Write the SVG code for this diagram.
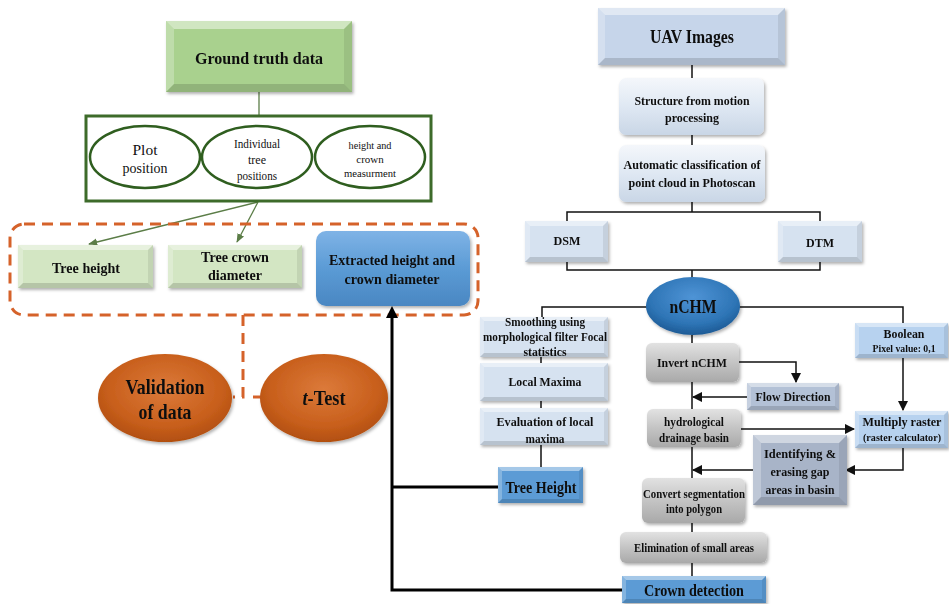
<svg xmlns="http://www.w3.org/2000/svg" width="949" height="604" viewBox="0 0 949 604">
  <style>
    text { font-family: "Liberation Serif", "Times New Roman", serif; font-weight: bold; fill: #111; text-anchor: middle; }
    .reg { font-weight: normal; }
    .bt { fill: #fff; opacity: 0.45; }
    .bl { fill: #fff; opacity: 0.25; }
    .bb { fill: #000; opacity: 0.14; }
    .br { fill: #000; opacity: 0.08; }
    .ln { stroke: #111; stroke-width: 1.5; fill: none; }
    .thick { stroke: #000; stroke-width: 3; fill: none; }
    .gl { stroke: #5b7d47; stroke-width: 1.3; fill: none; }
    .dash { stroke: #d5622a; stroke-width: 3; fill: none; stroke-dasharray: 11 7; }
    .oval { fill: #fff; stroke: #2f5e1f; stroke-width: 2.5; }
  </style>
  <defs>
    <filter id="sh" x="-10%" y="-10%" width="125%" height="130%">
      <feDropShadow dx="1.5" dy="2" stdDeviation="1.5" flood-color="#000" flood-opacity="0.3"/>
    </filter>
    <linearGradient id="gBlue" x1="0" y1="0" x2="0" y2="1">
      <stop offset="0" stop-color="#7fb3e6"/>
      <stop offset="0.5" stop-color="#5b9bd5"/>
      <stop offset="1" stop-color="#4a87c2"/>
    </linearGradient>
    <linearGradient id="gGrey" x1="0" y1="0" x2="0" y2="1">
      <stop offset="0" stop-color="#e2e2e2"/>
      <stop offset="0.5" stop-color="#c4c4c4"/>
      <stop offset="1" stop-color="#a9a9a9"/>
    </linearGradient>
    <linearGradient id="gPale" x1="0" y1="0" x2="0" y2="1">
      <stop offset="0" stop-color="#f4f7fb"/>
      <stop offset="0.5" stop-color="#dfe8f3"/>
      <stop offset="1" stop-color="#c9d6e6"/>
    </linearGradient>
    <radialGradient id="gOrange" cx="0.5" cy="0.4" r="0.6">
      <stop offset="0" stop-color="#dc7a3a"/>
      <stop offset="0.7" stop-color="#c85f1c"/>
      <stop offset="1" stop-color="#b24f10"/>
    </radialGradient>
    <radialGradient id="gNavy" cx="0.5" cy="0.35" r="0.65">
      <stop offset="0" stop-color="#4f94d6"/>
      <stop offset="0.7" stop-color="#2e75b6"/>
      <stop offset="1" stop-color="#1d5a95"/>
    </radialGradient>
    <marker id="ah" viewBox="0 0 10 10" refX="9" refY="5" markerWidth="7" markerHeight="7" orient="auto">
      <path d="M0,0 L10,5 L0,10 z" fill="#111"/>
    </marker>
    <marker id="ahg" viewBox="0 0 10 10" refX="9" refY="5" markerWidth="7" markerHeight="7" orient="auto">
      <path d="M0,1 L10,5 L0,9 z" fill="#5b7d47"/>
    </marker>
  </defs>

  <rect width="949" height="604" fill="#fff"/>

  <!-- connectors -->
  <g id="connectors">
    <!-- left: ground truth branch -->
    <line class="gl" x1="259" y1="92" x2="259" y2="116"/>
    <line class="gl" x1="258" y1="202" x2="89" y2="244" marker-end="url(#ahg)"/>
    <line class="gl" x1="258" y1="202" x2="237" y2="242" marker-end="url(#ahg)"/>
    <!-- validation dashed frame and links -->
    <rect class="dash" x="10" y="224" width="468" height="91" rx="14"/>
    <polyline class="dash" points="243,315 243,397 233,397"/>
    <line class="dash" x1="253" y1="397" x2="261" y2="397" stroke-dasharray="none"/>
    <!-- feedback lines to extracted values -->
    <polyline class="thick" points="622,590 392,590 392,312"/>
    <path d="M392,306 L386,318 L398,318 z" fill="#000"/>
    <line class="thick" x1="392" y1="487" x2="498" y2="487"/>
    <!-- right: UAV processing chain -->
    <line class="ln" x1="692" y1="65" x2="692" y2="78"/>
    <line class="ln" x1="692" y1="135" x2="692" y2="145"/>
    <polyline class="ln" points="692,202 692,212"/>
    <polyline class="ln" points="567,221 567,212 820,212 820,221"/>
    <polyline class="ln" points="567,262 567,270 820,270 820,262"/>
    <line class="ln" x1="692" y1="270" x2="692" y2="278"/>
    <polyline class="ln" points="542,317 542,307 903,307 903,323"/>
    <line class="ln" x1="692" y1="335" x2="692" y2="343"/>
    <line class="ln" x1="541" y1="357" x2="541" y2="363"/>
    <line class="ln" x1="541" y1="401" x2="541" y2="408"/>
    <line class="ln" x1="541" y1="445" x2="541" y2="467"/>
    <polyline class="ln" points="739,362 796,362 796,382" marker-end="url(#ah)"/>
    <line class="ln" x1="692" y1="382" x2="692" y2="409"/>
    <line class="ln" x1="747" y1="397" x2="693" y2="397" marker-end="url(#ah)"/>
    <line class="ln" x1="741" y1="429" x2="854" y2="429" marker-end="url(#ah)"/>
    <line class="ln" x1="903" y1="358" x2="903" y2="410" marker-end="url(#ah)"/>
    <polyline class="ln" points="903,448 903,470 846,470" marker-end="url(#ah)"/>
    <line class="ln" x1="753" y1="470" x2="693" y2="470" marker-end="url(#ah)"/>
    <line class="ln" x1="692" y1="447" x2="692" y2="478"/>
    <line class="ln" x1="692" y1="523" x2="692" y2="532"/>
    <line class="ln" x1="692" y1="563" x2="692" y2="576"/>
  </g>

  <!-- ground truth side -->
  <g id="ground-truth" filter="url(#sh)">
    <rect x="166" y="21" width="186" height="71" fill="#a9d18e"/>
    <polygon class="bt" points="166,21 352,21 344,29 174,29"/>
    <polygon class="bl" points="166,21 174,29 174,84 166,92"/>
    <polygon class="bb" points="166,92 174,84 344,84 352,92"/>
    <polygon class="br" points="352,21 352,92 344,84 344,29"/>
    <text x="259" y="64" font-size="17" textLength="128" lengthAdjust="spacingAndGlyphs">Ground truth data</text>
  </g>

  <g id="field-measurements">
    <rect x="86" y="116" width="345" height="85" fill="#fff" stroke="#3d6b2a" stroke-width="3"/>
    <g id="plot-position">
      <ellipse class="oval" cx="145" cy="157" rx="55" ry="31"/>
      <text class="reg" x="145" y="155" font-size="15" textLength="25" lengthAdjust="spacingAndGlyphs">Plot</text>
      <text class="reg" x="145" y="173" font-size="15" textLength="45" lengthAdjust="spacingAndGlyphs">position</text>
    </g>
    <g id="tree-positions">
      <ellipse class="oval" cx="257" cy="157" rx="55" ry="31"/>
      <text class="reg" x="257" y="148" font-size="12" textLength="46" lengthAdjust="spacingAndGlyphs">Individual</text>
      <text class="reg" x="257" y="164" font-size="12">tree</text>
      <text class="reg" x="257" y="180" font-size="12" textLength="40" lengthAdjust="spacingAndGlyphs">positions</text>
    </g>
    <g id="height-crown-measurement">
      <ellipse class="oval" cx="370" cy="157" rx="55" ry="31"/>
      <text class="reg" x="370" y="149" font-size="11" textLength="43" lengthAdjust="spacingAndGlyphs">height and</text>
      <text class="reg" x="370" y="163" font-size="11">crown</text>
      <text class="reg" x="370" y="177" font-size="11" textLength="52" lengthAdjust="spacingAndGlyphs">measurment</text>
    </g>
  </g>

  <g id="tree-height-gt" filter="url(#sh)">
    <rect x="18" y="245" width="135" height="43" fill="#d3e6c3"/>
    <polygon class="bt" points="18,245 153,245 148,250 23,250"/>
    <polygon class="bl" points="18,245 23,250 23,283 18,288"/>
    <polygon class="bb" points="18,288 23,283 148,283 153,288"/>
    <polygon class="br" points="153,245 153,288 148,283 148,250"/>
    <text x="86" y="273" font-size="15" textLength="68" lengthAdjust="spacingAndGlyphs">Tree height</text>
  </g>

  <g id="tree-crown-gt" filter="url(#sh)">
    <rect x="168" y="245" width="134" height="43" fill="#d3e6c3"/>
    <polygon class="bt" points="168,245 302,245 297,250 173,250"/>
    <polygon class="bl" points="168,245 173,250 173,283 168,288"/>
    <polygon class="bb" points="168,288 173,283 297,283 302,288"/>
    <polygon class="br" points="302,245 302,288 297,283 297,250"/>
    <text x="235" y="262" font-size="15" textLength="68" lengthAdjust="spacingAndGlyphs">Tree crown</text>
    <text x="235" y="280" font-size="15" textLength="54" lengthAdjust="spacingAndGlyphs">diameter</text>
  </g>

  <g id="extracted" filter="url(#sh)">
    <rect x="316" y="231" width="154" height="75" rx="10" fill="url(#gBlue)"/>
    <text x="392" y="265" font-size="15" textLength="126" lengthAdjust="spacingAndGlyphs">Extracted height and</text>
    <text x="392" y="284" font-size="15" textLength="95" lengthAdjust="spacingAndGlyphs">crown diameter</text>
  </g>

  <g id="validation" filter="url(#sh)">
    <ellipse cx="165" cy="398" rx="67" ry="44" fill="url(#gOrange)"/>
    <text x="165" y="394" font-size="21" textLength="79" lengthAdjust="spacingAndGlyphs">Validation</text>
    <text x="165" y="419" font-size="21" textLength="53" lengthAdjust="spacingAndGlyphs">of data</text>
  </g>

  <g id="t-test" filter="url(#sh)">
    <ellipse cx="324" cy="398" rx="64" ry="44" fill="url(#gOrange)"/>
    <text x="324" y="405" font-size="20" textLength="43" lengthAdjust="spacingAndGlyphs"><tspan font-style="italic">t</tspan>-Test</text>
  </g>

  <!-- UAV side -->
  <g id="uav-images" filter="url(#sh)">
    <rect x="598" y="8" width="187" height="57" fill="#c6d5ea"/>
    <polygon class="bt" points="598,8 785,8 778,15 605,15"/>
    <polygon class="bl" points="598,8 605,15 605,58 598,65"/>
    <polygon class="bb" points="598,65 605,58 778,58 785,65"/>
    <polygon class="br" points="785,8 785,65 778,58 778,15"/>
    <text x="692" y="43" font-size="19" textLength="84" lengthAdjust="spacingAndGlyphs">UAV Images</text>
  </g>

  <g id="sfm" filter="url(#sh)">
    <rect x="619" y="78" width="145" height="57" rx="7" fill="url(#gPale)"/>
    <text x="692" y="105" font-size="12.5" textLength="115" lengthAdjust="spacingAndGlyphs">Structure from motion</text>
    <text x="692" y="122" font-size="12.5" textLength="54" lengthAdjust="spacingAndGlyphs">processing</text>
  </g>

  <g id="classification" filter="url(#sh)">
    <rect x="619" y="145" width="146" height="57" rx="7" fill="url(#gPale)"/>
    <text x="692" y="169" font-size="12.5" textLength="137" lengthAdjust="spacingAndGlyphs">Automatic classification of</text>
    <text x="692" y="187" font-size="12.5" textLength="127" lengthAdjust="spacingAndGlyphs">point cloud in Photoscan</text>
  </g>

  <g id="dsm" filter="url(#sh)">
    <rect x="525" y="221" width="83" height="41" fill="#d6e2f0"/>
    <polygon class="bt" points="525,221 608,221 603,226 530,226"/>
    <polygon class="bl" points="525,221 530,226 530,257 525,262"/>
    <polygon class="bb" points="525,262 530,257 603,257 608,262"/>
    <polygon class="br" points="608,221 608,262 603,257 603,226"/>
    <text x="567" y="245" font-size="13" textLength="27" lengthAdjust="spacingAndGlyphs">DSM</text>
  </g>

  <g id="dtm" filter="url(#sh)">
    <rect x="778" y="221" width="84" height="41" fill="#d6e2f0"/>
    <polygon class="bt" points="778,221 862,221 857,226 783,226"/>
    <polygon class="bl" points="778,221 783,226 783,257 778,262"/>
    <polygon class="bb" points="778,262 783,257 857,257 862,262"/>
    <polygon class="br" points="862,221 862,262 857,257 857,226"/>
    <text x="820" y="247" font-size="13" textLength="28" lengthAdjust="spacingAndGlyphs">DTM</text>
  </g>

  <g id="nchm" filter="url(#sh)">
    <ellipse cx="693" cy="306" rx="47" ry="29" fill="url(#gNavy)"/>
    <text x="693" y="313" font-size="19" fill="#0d1a2e" textLength="47" lengthAdjust="spacingAndGlyphs">nCHM</text>
  </g>

  <!-- tree height branch -->
  <g id="smoothing" filter="url(#sh)">
    <rect x="480" y="317" width="128" height="40" fill="#d6e2f0"/>
    <polygon class="bt" points="480,317 608,317 604,321 484,321"/>
    <polygon class="bl" points="480,317 484,321 484,353 480,357"/>
    <polygon class="bb" points="480,357 484,353 604,353 608,357"/>
    <polygon class="br" points="608,317 608,357 604,353 604,321"/>
    <text x="545" y="326" font-size="12" textLength="80" lengthAdjust="spacingAndGlyphs">Smoothing using</text>
    <text x="545" y="341" font-size="12" textLength="124" lengthAdjust="spacingAndGlyphs">morphological filter Focal</text>
    <text x="545" y="356" font-size="12" textLength="43" lengthAdjust="spacingAndGlyphs">statistics</text>
  </g>

  <g id="local-maxima" filter="url(#sh)">
    <rect x="480" y="363" width="128" height="38" fill="#d6e2f0"/>
    <polygon class="bt" points="480,363 608,363 604,367 484,367"/>
    <polygon class="bl" points="480,363 484,367 484,397 480,401"/>
    <polygon class="bb" points="480,401 484,397 604,397 608,401"/>
    <polygon class="br" points="608,363 608,401 604,397 604,367"/>
    <text x="545" y="386" font-size="13" textLength="73" lengthAdjust="spacingAndGlyphs">Local Maxima</text>
  </g>

  <g id="evaluation" filter="url(#sh)">
    <rect x="480" y="408" width="128" height="37" fill="#d6e2f0"/>
    <polygon class="bt" points="480,408 608,408 604,412 484,412"/>
    <polygon class="bl" points="480,408 484,412 484,441 480,445"/>
    <polygon class="bb" points="480,445 484,441 604,441 608,445"/>
    <polygon class="br" points="608,408 608,445 604,441 604,412"/>
    <text x="545" y="426" font-size="12.5" textLength="97" lengthAdjust="spacingAndGlyphs">Evaluation  of local</text>
    <text x="545" y="443" font-size="12.5" textLength="39" lengthAdjust="spacingAndGlyphs">maxima</text>
  </g>

  <g id="tree-height" filter="url(#sh)">
    <rect x="498" y="467" width="85" height="36" fill="#5b9bd5"/>
    <polygon class="bt" points="498,467 583,467 579,471 502,471"/>
    <polygon class="bl" points="498,467 502,471 502,499 498,503"/>
    <polygon class="bb" points="498,503 502,499 579,499 583,503"/>
    <polygon class="br" points="583,467 583,503 579,499 579,471"/>
    <text x="541" y="493" font-size="16" textLength="71" lengthAdjust="spacingAndGlyphs">Tree Height</text>
  </g>

  <!-- crown branch -->
  <g id="invert-nchm" filter="url(#sh)">
    <rect x="646" y="343" width="93" height="39" rx="6" fill="url(#gGrey)"/>
    <text x="692" y="367" font-size="13" textLength="70" lengthAdjust="spacingAndGlyphs">Invert nCHM</text>
  </g>

  <g id="flow-direction" filter="url(#sh)">
    <rect x="747" y="383" width="92" height="27" fill="#b3c1d6"/>
    <polygon class="bt" points="747,383 839,383 835,387 751,387"/>
    <polygon class="bl" points="747,383 751,387 751,406 747,410"/>
    <polygon class="bb" points="747,410 751,406 835,406 839,410"/>
    <polygon class="br" points="839,383 839,410 835,406 835,387"/>
    <text x="793" y="401" font-size="13" textLength="75" lengthAdjust="spacingAndGlyphs">Flow  Direction</text>
  </g>

  <g id="drainage-basin" filter="url(#sh)">
    <rect x="647" y="409" width="94" height="38" rx="6" fill="url(#gGrey)"/>
    <text x="694" y="426" font-size="13" textLength="60" lengthAdjust="spacingAndGlyphs">hydrological</text>
    <text x="694" y="442" font-size="13" textLength="70" lengthAdjust="spacingAndGlyphs">drainage basin</text>
  </g>

  <g id="boolean" filter="url(#sh)">
    <rect x="855" y="323" width="93" height="35" fill="#b7d2ef"/>
    <polygon class="bt" points="855,323 948,323 944,327 859,327"/>
    <polygon class="bl" points="855,323 859,327 859,354 855,358"/>
    <polygon class="bb" points="855,358 859,354 944,354 948,358"/>
    <polygon class="br" points="948,323 948,358 944,354 944,327"/>
    <text x="904" y="338" font-size="13" textLength="41" lengthAdjust="spacingAndGlyphs">Boolean</text>
    <text x="904" y="352" font-size="10" textLength="63" lengthAdjust="spacingAndGlyphs">Pixel value:  0,1</text>
  </g>

  <g id="multiply-raster" filter="url(#sh)">
    <rect x="855" y="411" width="93" height="37" fill="#b7d2ef"/>
    <polygon class="bt" points="855,411 948,411 944,415 859,415"/>
    <polygon class="bl" points="855,411 859,415 859,444 855,448"/>
    <polygon class="bb" points="855,448 859,444 944,444 948,448"/>
    <polygon class="br" points="948,411 948,448 944,444 944,415"/>
    <text x="902" y="426" font-size="12.5" textLength="79" lengthAdjust="spacingAndGlyphs">Multiply raster</text>
    <text x="902" y="441" font-size="10" textLength="78" lengthAdjust="spacingAndGlyphs">(raster calculator)</text>
  </g>

  <g id="erase-gaps" filter="url(#sh)">
    <rect x="753" y="435" width="94" height="70" fill="#a8b4c8"/>
    <polygon class="bt" points="753,435 847,435 839,443 761,443"/>
    <polygon class="bl" points="753,435 761,443 761,497 753,505"/>
    <polygon class="bb" points="753,505 761,497 839,497 847,505"/>
    <polygon class="br" points="847,435 847,505 839,497 839,443"/>
    <text x="800" y="458" font-size="13" textLength="72" lengthAdjust="spacingAndGlyphs">Identifying   &amp;</text>
    <text x="800" y="476" font-size="13" textLength="59" lengthAdjust="spacingAndGlyphs">erasing gap</text>
    <text x="800" y="494" font-size="13" textLength="69" lengthAdjust="spacingAndGlyphs">areas in basin</text>
  </g>

  <g id="convert-polygon" filter="url(#sh)">
    <rect x="642" y="478" width="103" height="45" rx="6" fill="url(#gGrey)"/>
    <text x="694" y="498" font-size="12.5" textLength="102" lengthAdjust="spacingAndGlyphs">Convert segmentation</text>
    <text x="694" y="513" font-size="12.5" textLength="56" lengthAdjust="spacingAndGlyphs">into polygon</text>
  </g>

  <g id="eliminate-small" filter="url(#sh)">
    <rect x="620" y="532" width="147" height="31" rx="6" fill="url(#gGrey)"/>
    <text x="694" y="552" font-size="12.5" textLength="120" lengthAdjust="spacingAndGlyphs">Elimination of small areas</text>
  </g>

  <g id="crown-detection" filter="url(#sh)">
    <rect x="622" y="576" width="144" height="27" fill="#5b9bd5"/>
    <polygon class="bt" points="622,576 766,576 762,580 626,580"/>
    <polygon class="bl" points="622,576 626,580 626,599 622,603"/>
    <polygon class="bb" points="622,603 626,599 762,599 766,603"/>
    <polygon class="br" points="766,576 766,603 762,599 762,580"/>
    <text x="694" y="596" font-size="17" textLength="100" lengthAdjust="spacingAndGlyphs">Crown detection</text>
  </g>
</svg>
